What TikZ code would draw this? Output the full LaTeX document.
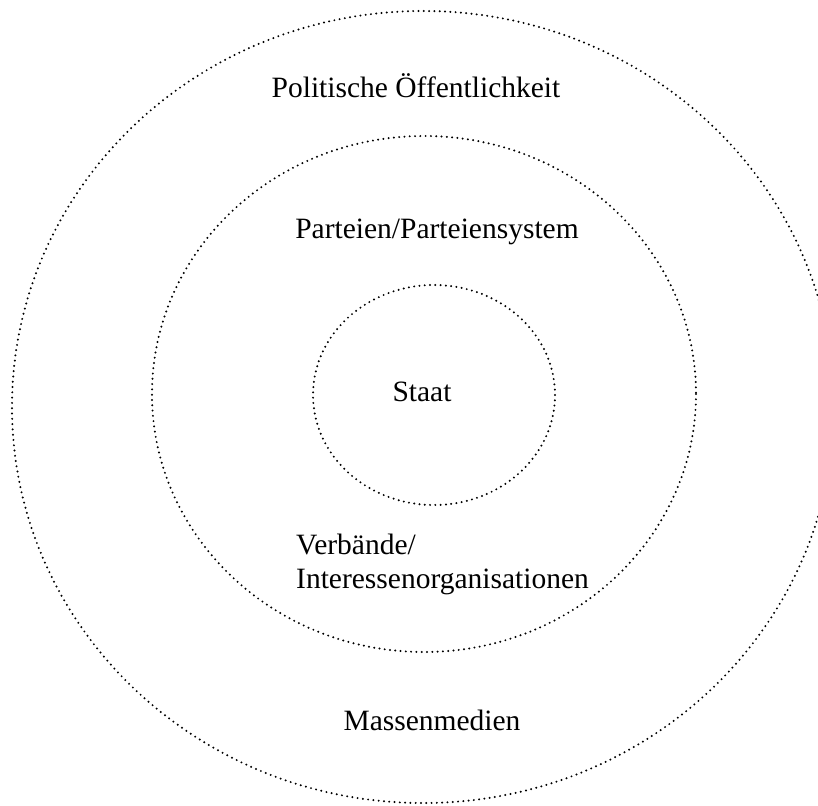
\documentclass[tikz,border=0pt]{standalone}
\usepackage{fontspec}
\setmainfont{Liberation Serif}
\begin{document}
\begin{tikzpicture}[x=1pt,y=-1pt,
  ring/.style={line width=2.2pt, line cap=round, dash pattern=on 0pt off 5.3pt},
  lbl/.style={font=\fontsize{29.5}{34}\selectfont, inner sep=0pt, anchor=base}]
\useasboundingbox (0,0) rectangle (818,805);
\begin{scope}
\clip (0,0) rectangle (818,805);
\draw[ring] (423,407) ellipse [x radius=411, y radius=396];
\end{scope}
\draw[ring] (424,394) ellipse [x radius=272, y radius=258];
\draw[ring] (434,395) ellipse [x radius=121, y radius=110];
\node[lbl] (oeff) at (416,98) {Politische Öffentlichkeit};
\node[lbl] (part) at (437,238) {Parteien/Parteiensystem};
\node[lbl] (staat) at (422,401) {Staat};
\node[font=\fontsize{29.5}{34}\selectfont, inner sep=0pt, anchor=base west, align=left] (verb) at (296,588) {Verbände/\\Interessenorganisationen};
\node[lbl] (mass) at (432,730) {Massenmedien};
\end{tikzpicture}
\end{document}
